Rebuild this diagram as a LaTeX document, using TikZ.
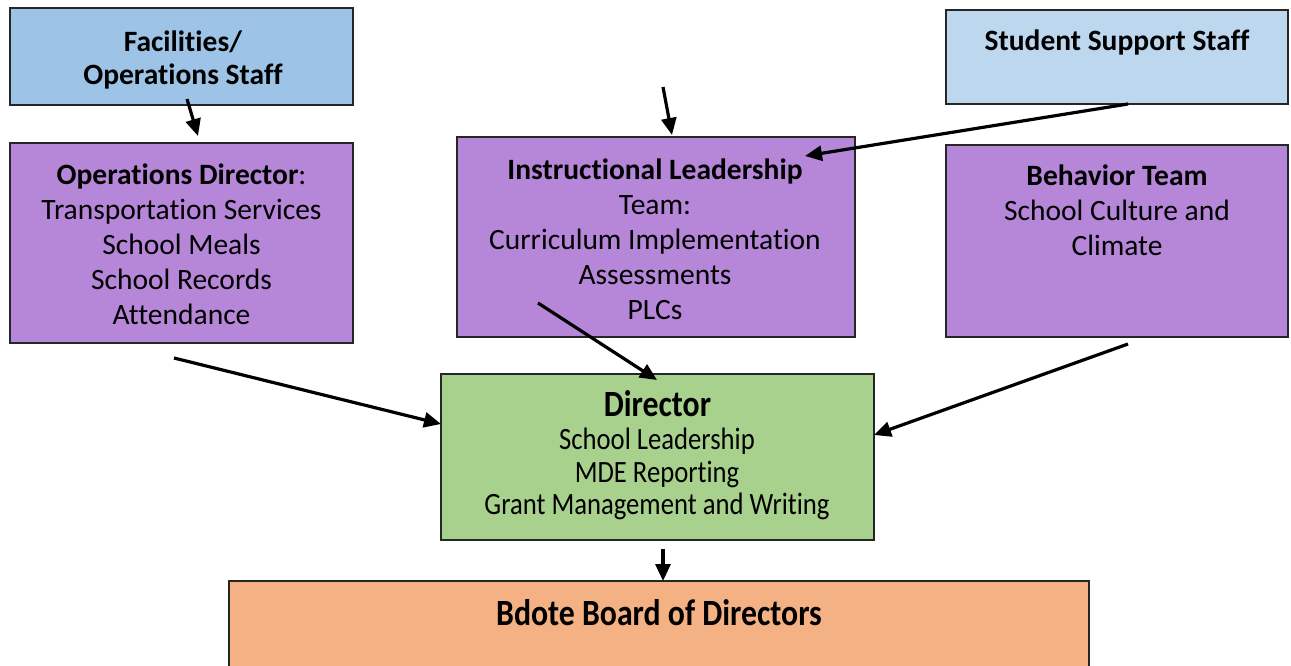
\documentclass[tikz,border=0pt]{standalone}
\usepackage{fontspec}
\setmainfont[Ligatures={NoCommon}]{Carlito}
\newfontfamily\condfont[FakeStretch=0.86,Ligatures={NoCommon}]{Carlito}
\usetikzlibrary{arrows.meta}
\definecolor{facblue}{HTML}{9DC3E6}
\definecolor{sssblue}{HTML}{BDD7EE}
\definecolor{purp}{HTML}{B687D9}
\definecolor{grn}{HTML}{A9D18E}
\definecolor{org}{HTML}{F4B183}
\tikzset{
  boxnode/.style={draw=black!85, line width=1.4pt, inner sep=0pt, minimum width=#1},
  txt/.style={align=center, inner sep=0pt, anchor=north, font=\fontsize{29.5}{35}\selectfont},
  onetxt/.style={inner sep=0pt, anchor=base, font=\fontsize{29.5}{35}\selectfont},
  dtxt/.style={align=center, inner sep=0pt, anchor=north, font=\condfont\fontsize{31}{32.5}\selectfont},
  donetxt/.style={inner sep=0pt, anchor=base, font=\condfont\fontsize{37}{40}\selectfont\bfseries},
  arr/.style={line width=3.2pt, -{Triangle[length=17pt,width=15pt]}}
}
\begin{document}
\begin{tikzpicture}[x=1pt,y=-1pt]
\useasboundingbox (0,0) rectangle (1291,666);
\clip (0,0) rectangle (1291,666);
% boxes
\node[boxnode=343pt, fill=facblue, minimum height=97pt] (fac) at (181.5,56.5) {};
\node[boxnode=342pt, fill=sssblue, minimum height=94pt] (sss) at (1117,57) {};
\node[boxnode=343pt, fill=purp, minimum height=200pt] (ops) at (181.5,243) {};
\node[boxnode=398pt, fill=purp, minimum height=200pt] (ilt) at (656,237) {};
\node[boxnode=342pt, fill=purp, minimum height=192pt] (beh) at (1117,241) {};
\node[boxnode=433pt, fill=grn, minimum height=166pt] (dir) at (657.5,457) {};
\node[boxnode=860pt, fill=org, minimum height=110pt] (brd) at (659,636) {};
% texts
\node[txt, font=\fontsize{29.5}{33}\selectfont] (factxt) at (183,27.9) {\strut\textbf{Facilities/}\\\textbf{Operations Staff}};
\node[onetxt] (ssstxt) at (1117,50.5) {\textbf{Student Support Staff}};
\node[txt] (opstxt) at (181.5,159.5) {\strut\textbf{Operations Director}:\\Transportation Services\\School Meals\\School Records\\Attendance};
\node[txt] (ilttxt) at (655,154.5) {\strut\textbf{Instructional Leadership}\\Team:\\Curriculum Implementation\\Assessments\\PLCs};
\node[txt] (behtxt) at (1117,160.5) {\strut\textbf{Behavior Team}\\School Culture and\\Climate};
\node[donetxt] (dirtitle) at (657.5,416.5) {Director};
\node[dtxt] (dirtxt) at (657,427) {\strut School Leadership\\MDE Reporting\\Grant Management and Writing};
\node[donetxt] (brdtxt) at (659,625) {Bdote Board of Directors};
% connector points
\coordinate (a1s) at (187,99);  \coordinate (a1e) at (198,136);
\coordinate (a2s) at (663,87);  \coordinate (a2e) at (672,135);
\coordinate (a3s) at (1128,104); \coordinate (a3e) at (805,156);
\coordinate (a4s) at (174,358); \coordinate (a4e) at (441,424);
\coordinate (a5s) at (538,303); \coordinate (a5e) at (657,380);
\coordinate (a6s) at (1128,344); \coordinate (a6e) at (874,435);
\coordinate (a7s) at (663,549); \coordinate (a7e) at (663,581);
\draw[arr] (a1s) -- (a1e);
\draw[arr] (a2s) -- (a2e);
\draw[arr] (a3s) -- (a3e);
\draw[arr] (a4s) -- (a4e);
\draw[arr] (a5s) -- (a5e);
\draw[arr] (a6s) -- (a6e);
\draw[arr] (a7s) -- (a7e);
\end{tikzpicture}
\end{document}
